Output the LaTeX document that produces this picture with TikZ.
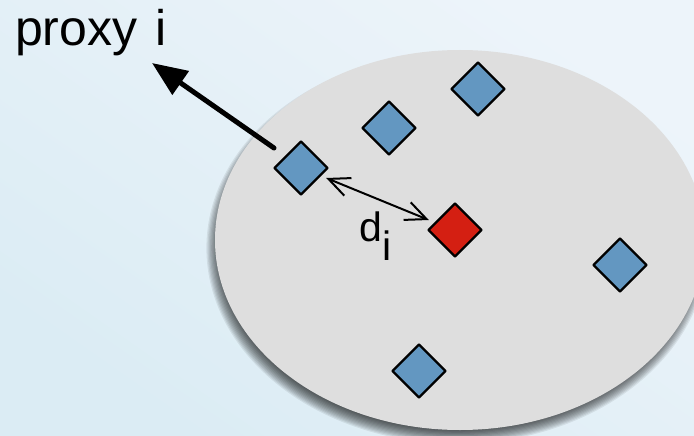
\documentclass[tikz,border=0pt]{standalone}
\usepackage{fontspec}
\setmainfont{Liberation Sans}
\usetikzlibrary{shapes.geometric,arrows.meta}
\definecolor{bgLight}{HTML}{EDF4FA}
\definecolor{bgDark}{HTML}{DBECF4}
\definecolor{cloud}{HTML}{DEDEDE}
\definecolor{proxyblue}{HTML}{6397C1}
\definecolor{targetred}{HTML}{D41F12}
\tikzset{
  pt/.style={diamond, draw=black, line width=2.4pt, line join=round,
    minimum width=54pt, minimum height=54pt, inner sep=0pt},
  proxypt/.style={pt, fill=proxyblue},
  targetpt/.style={pt, fill=targetred},
  label/.style={inner sep=0pt, text=black},
}
\begin{document}
\begin{tikzpicture}[x=1pt, y=-1pt]
  % background
  \shade[top color=bgLight, bottom color=bgDark, shading angle=-35]
    (0,0) rectangle (694,436);
  \useasboundingbox (0,0) rectangle (694,436);

  % soft shadow under the region
  \foreach \k in {0,...,13}
    \fill[black, opacity=0.075]
      (457,248) ellipse ({235+\k*1.2} and {180+\k*1.2});

  % the region
  \fill[cloud] (460,240) ellipse (245 and 190);

  % sample points
  \node[proxypt]  (a) at (478,89)  {};
  \node[proxypt]  (b) at (389,128) {};
  \node[proxypt]  (p) at (301,168) {};
  \node[targetpt] (r) at (455,230) {};
  \node[proxypt]  (c) at (620,265) {};
  \node[proxypt]  (e) at (419,371) {};

  % label of the chosen proxy
  \node[label, anchor=base west, font=\fontsize{50}{50}\selectfont]
    (proxylbl) at (15,46) {proxy\hspace{4pt} i};
  \coordinate (tip) at (152,63);
  \draw[line width=5pt, line cap=round,
        -{Triangle[length=35pt, width=28pt]}]
    ([shift={(-27,-20)}]p.center) -- (tip);

  % distance to the target
  \draw[line width=2pt,
        {Straight Barb[length=21pt, width=19pt]}-{Straight Barb[length=21pt, width=19pt]}]
    ([shift={(-3,10)}]p.east) -- ([shift={(2,-10)}]r.west);
  \node[label, anchor=base west, font=\fontsize{41}{41}\selectfont]
    (dist) at (359,241) {d\raisebox{-19pt}{i}};
\end{tikzpicture}
\end{document}
